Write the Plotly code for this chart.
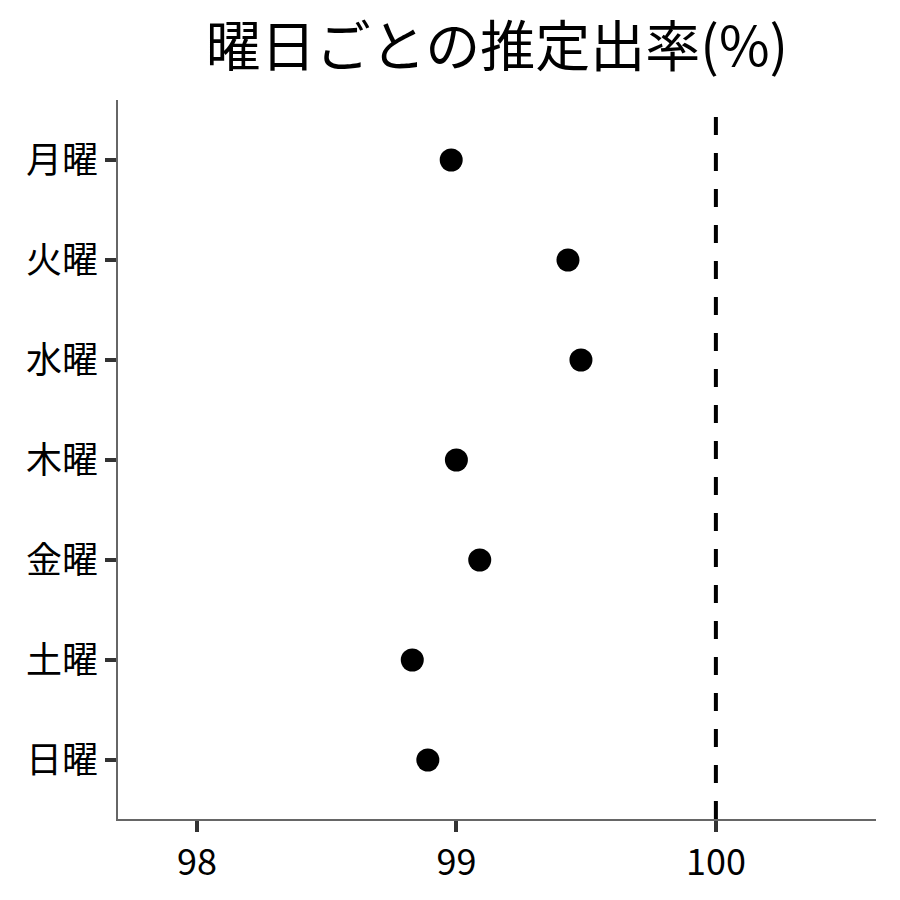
import plotly.graph_objects as go

# 曜日ごとの推定出率
days = ["月曜", "火曜", "水曜", "木曜", "金曜", "土曜", "日曜"]
rates = [98.98, 99.43, 99.48, 99.00, 99.09, 98.83, 98.89]
ref_line = 100
x_ticks = [98, 99, 100]

font_jp = "Noto Sans CJK JP"

fig = go.Figure(go.Scatter(
    x=rates, y=days, mode="markers",
    marker=dict(color="black", size=23),
    showlegend=False,
))

fig.add_vline(x=ref_line, line=dict(color="black", width=4, dash="18px,18px"))

fig.update_layout(
    width=900, height=900,
    plot_bgcolor="white", paper_bgcolor="white",
    margin=dict(l=110, r=32, t=92, b=89),
    font=dict(family=font_jp, color="black"),
    title=dict(text="曜日ごとの推定出率(%)", xref="paper", x=0.5, xanchor="center",
               y=0.957, yanchor="middle",
               font=dict(family=font_jp, size=55, color="black")),
)

fig.update_xaxes(
    range=[97.696, 100.617], tickvals=x_ticks,
    showgrid=False, zeroline=False,
    showline=True, linecolor="#666666", linewidth=1.5,
    ticks="outside", ticklen=11, tickwidth=4, tickcolor="#333333",
    tickfont=dict(size=36, color="black"),
)
fig.update_yaxes(
    categoryorder="array", categoryarray=days[::-1],
    range=[-0.59, 6.6],
    showgrid=False, zeroline=False,
    showline=True, linecolor="#666666", linewidth=1.5,
    ticks="outside", ticklen=11, tickwidth=4, tickcolor="#333333",
    tickfont=dict(size=36, color="black"),
)

fig.write_html("out.html")
